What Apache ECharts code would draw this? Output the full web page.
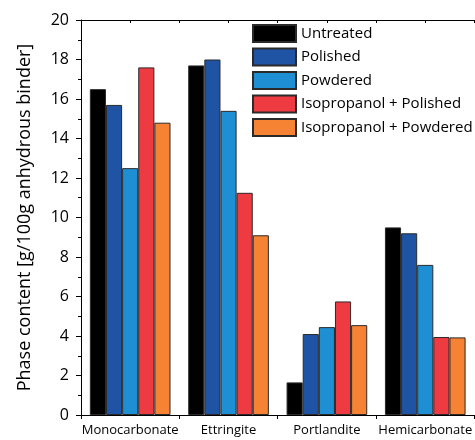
<!DOCTYPE html>
<html>
<head>
<meta charset="utf-8">
<script src="https://cdn.jsdelivr.net/npm/echarts@6/dist/echarts.min.js"></script>
<style>
  html, body { margin: 0; padding: 0; background: #fff; }
  #chart { width: 475px; height: 440px; }
</style>
</head>
<body>
<div id="chart"></div>
<script>
// Phase contents per treatment, g/100g anhydrous binder
const phases = ['Monocarbonate', 'Ettringite', 'Portlandite', 'Hemicarbonate'];
const treatments = ['Untreated', 'Polished', 'Powdered', 'Isopropanol + Polished', 'Isopropanol + Powdered'];
const untreated = [16.5, 17.7, 1.65, 9.5];
const polished = [15.7, 18.0, 4.1, 9.2];
const powdered = [12.5, 15.4, 4.45, 7.6];
const isoPolished = [17.6, 11.25, 5.75, 3.95];
const isoPowdered = [14.8, 9.1, 4.55, 3.93];
const yTicks = [0, 2, 4, 6, 8, 10, 12, 14, 16, 18, 20];

const colors = ['#000000', '#1f53a3', '#1e8fd3', '#ee3a41', '#f58333'];
const values = [untreated, polished, powdered, isoPolished, isoPowdered];
const font = '"Open Sans", "Noto Sans", sans-serif';

const chart = echarts.init(document.getElementById('chart'), null, { renderer: 'canvas' });

chart.setOption({
  animation: false,
  backgroundColor: '#ffffff',
  textStyle: { fontFamily: font, color: '#000' },
  grid: { left: 81, top: 20, width: 395, height: 395, containLabel: false },
  legend: {
    data: treatments,
    orient: 'vertical',
    left: 252,
    top: 24,
    padding: 0,
    itemWidth: 43,
    itemHeight: 17,
    itemGap: 4.5,
    icon: 'rect',
    textStyle: { fontFamily: font, fontSize: 15, lineHeight: 17, color: '#000' }
  },
  xAxis: [
    {
      type: 'category',
      data: phases,
      position: 'bottom',
      axisLine: { lineStyle: { color: '#000', width: 1 } },
      axisTick: { show: true, inside: false, length: 4, lineStyle: { color: '#000' } },
      axisLabel: { fontFamily: font, fontSize: 13, color: '#000', margin: 9, interval: 0, hideOverlap: false },
      splitLine: { show: false }
    },
    {
      // top frame with half-band ticks
      type: 'value',
      position: 'top',
      min: 0,
      max: 8,
      interval: 1,
      axisLine: { show: true, lineStyle: { color: '#000', width: 1 } },
      axisTick: { show: true, inside: true, length: 3, lineStyle: { color: '#000' } },
      axisLabel: { show: false },
      splitLine: { show: false }
    }
  ],
  yAxis: {
    type: 'value',
    min: yTicks[0],
    max: yTicks[yTicks.length - 1],
    interval: 2,
    name: 'Phase content [g/100g anhydrous binder]',
    nameLocation: 'middle',
    nameGap: 47,
    nameTextStyle: { fontFamily: font, fontSize: 18, color: '#000' },
    axisLine: { show: true, lineStyle: { color: '#000', width: 1 } },
    axisTick: { show: true, inside: false, length: 5, lineStyle: { color: '#000' } },
    minorTick: { show: true, splitNumber: 2, length: 3, lineStyle: { color: '#000' } },
    axisLabel: { fontFamily: font, fontSize: 16, color: '#000', margin: 12 },
    splitLine: { show: false }
  },
  series: treatments.map((name, i) => ({
    name: name,
    type: 'bar',
    xAxisIndex: 0,
    data: values[i],
    barGap: '0%',
    barCategoryGap: '18%',
    itemStyle: { color: colors[i], borderColor: '#2a2a2a', borderWidth: 1 }
  }))
});
</script>
</body>
</html>
